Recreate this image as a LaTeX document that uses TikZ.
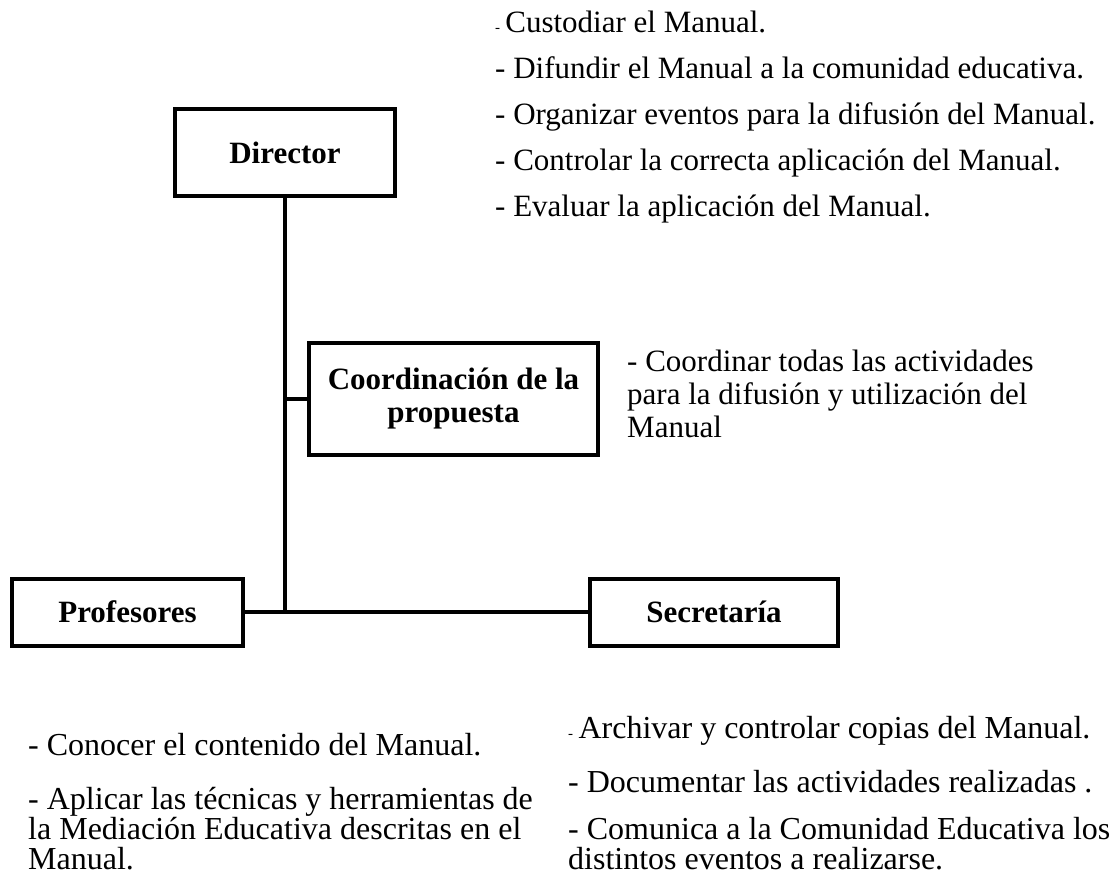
\documentclass[tikz,border=0pt]{standalone}
\usepackage{fontspec}
\setmainfont{Liberation Serif}
\usetikzlibrary{calc}
\tikzset{
  rolebox/.style={draw=black,line width=4pt,fill=white,align=center,inner sep=0pt,font=\fontsize{31}{33}\selectfont\bfseries},
  trunk/.style={line width=4pt,draw=black},
  branch/.style={line width=3.5pt,draw=black},
  duty/.style={anchor=base west,align=left,inner sep=0pt,font=\fontsize{31}{33}\selectfont},
  lowduty/.style={duty,font=\fontsize{32}{30}\selectfont}
}
\newcommand{\smalldash}{{\fontsize{15}{15}\selectfont -}\,}

\begin{document}
\begin{tikzpicture}[x=1pt,y=-1pt]
  \useasboundingbox (0,0) rectangle (1116,874);
  % cajas
  \node[rolebox,minimum width=220pt,minimum height=87pt] (dir) at (285,152.5) {Director};
  \node[rolebox,minimum width=289pt,minimum height=112pt] (coord) at (453.5,399) {Coordinación de la\\propuesta};
  \node[rolebox,minimum width=231pt,minimum height=67pt] (prof) at (127.5,612) {Profesores};
  \node[rolebox,minimum width=248pt,minimum height=67pt] (secr) at (714,612) {Secretaría};
  \coordinate (jc) at (dir.south |- coord.west); \coordinate (jp) at (dir.south |- prof.east);
  % lineas
  \draw[trunk] (dir.south)--(jp);
  \draw[branch] (jc)--(coord.west);
  \draw[branch] (prof.east)--(secr.west);
  % funciones (base = ultima linea)
  \node[duty] (d1) at (495,33) {\smalldash Custodiar el Manual.};
  \node[duty] (d2) at (495,79) {- Difundir el Manual a la comunidad educativa.};
  \node[duty] (d3) at (495,125) {- Organizar eventos para la difusión del Manual.};
  \node[duty] (d4) at (495,171) {- Controlar la correcta aplicación del Manual.};
  \node[duty] (d5) at (495,217) {- Evaluar la aplicación del Manual.};
  \node[duty] (c1) at (627,437) {- Coordinar todas las actividades\\para la difusión y utilización del\\Manual};
  \node[lowduty] (p1) at (28,755) {- Conocer el contenido del Manual.};
  \node[lowduty] (p2) at (28,869) {- Aplicar las técnicas y herramientas de\\la Mediación Educativa descritas en el\\Manual.};
  \node[lowduty] (s1) at (568,738) {\smalldash Archivar y controlar copias del Manual.};
  \node[lowduty] (s2) at (568,792) {- Documentar las actividades realizadas .};
  \node[lowduty] (s3) at (568,869) {- Comunica a la Comunidad Educativa los\\distintos eventos a realizarse.};
\end{tikzpicture}
\end{document}
